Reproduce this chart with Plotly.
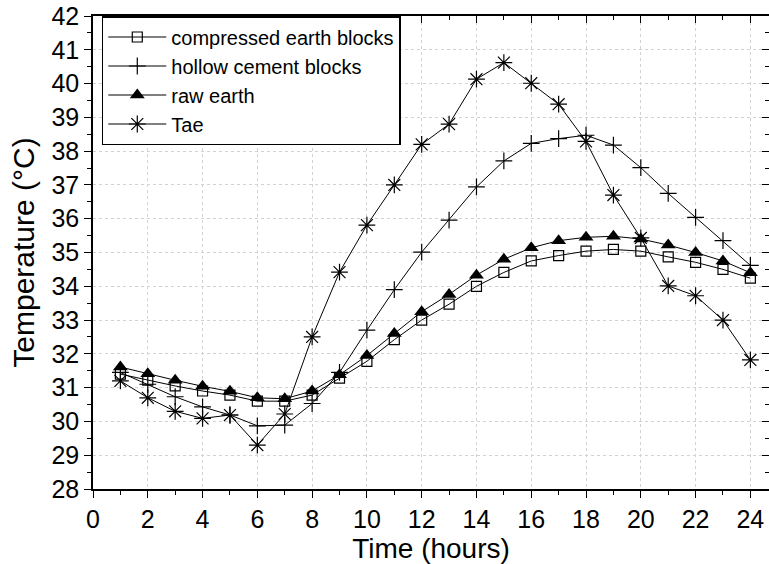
import plotly.graph_objects as go

hours = list(range(1, 25))
ceb = [31.40, 31.22, 31.05, 30.90, 30.78, 30.60, 30.60, 30.78, 31.28, 31.78, 32.42, 33.00,
       33.47, 34.00, 34.41, 34.75, 34.91, 35.04, 35.09, 35.04, 34.87, 34.71, 34.50, 34.24]
hollow = [31.45, 31.10, 30.73, 30.43, 30.19, 29.87, 29.89, 30.53, 31.45, 32.70, 33.90, 35.01,
          35.96, 36.94, 37.71, 38.23, 38.37, 38.47, 38.18, 37.51, 36.75, 36.04, 35.35, 34.62]
raw = [31.61, 31.41, 31.22, 31.04, 30.89, 30.70, 30.67, 30.90, 31.38, 31.95, 32.60, 33.25,
       33.76, 34.33, 34.80, 35.14, 35.35, 35.45, 35.48, 35.40, 35.22, 35.00, 34.75, 34.40]
tae = [31.20, 30.70, 30.30, 30.09, 30.19, 29.30, 30.22, 32.50, 34.42, 35.81, 37.00, 38.20,
       38.80, 40.13, 40.62, 40.01, 39.39, 38.29, 36.70, 35.43, 34.01, 33.72, 33.00, 31.82]
names = ["compressed earth blocks", "hollow cement blocks", "raw earth", "Tae"]

FONT = "Liberation Sans, Arial, sans-serif"
fig = go.Figure()
fig.add_trace(go.Scatter(x=hours, y=ceb, name=names[0], mode="lines+markers",
                         line=dict(color="black", width=1),
                         marker=dict(symbol="square-open", size=10, color="black", line=dict(width=1.2))))
fig.add_trace(go.Scatter(x=hours, y=hollow, name=names[1], mode="lines+markers",
                         line=dict(color="black", width=1),
                         marker=dict(symbol="cross-thin-open", size=12, color="black", line=dict(width=1.2))))
fig.add_trace(go.Scatter(x=hours, y=raw, name=names[2], mode="lines+markers",
                         line=dict(color="black", width=1),
                         marker=dict(symbol="triangle-up", size=13, color="black")))
fig.add_trace(go.Scatter(x=hours, y=tae, name=names[3], mode="lines+markers",
                         line=dict(color="black", width=1),
                         marker=dict(symbol="asterisk-open", size=14, color="black", line=dict(width=1.2))))
# invisible trace to carry the mirrored top/right axes
fig.add_trace(go.Scatter(x=hours, y=tae, xaxis="x2", yaxis="y2", mode="lines",
                         line=dict(width=0), opacity=0, showlegend=False, hoverinfo="skip"))

xr = [0, 24.68]
yr = [28, 42]
fig.update_layout(
    width=769, height=564,
    margin=dict(l=93, r=0, t=16, b=72),
    paper_bgcolor="white", plot_bgcolor="white",
    font=dict(family=FONT, color="black", size=20),
    showlegend=True,
    legend=dict(x=0.013, y=1.0, xanchor="left", yanchor="top",
                bgcolor="white", bordercolor="black", borderwidth=1.5,
                font=dict(size=20, family=FONT), tracegroupgap=0, itemwidth=58,
                entrywidth=262, entrywidthmode="pixels"),
    xaxis=dict(range=xr, dtick=2, tick0=0, ticks="outside", ticklen=7, tickwidth=1.2,
               tickcolor="black", showline=True, linecolor="black", linewidth=1.5,
               showgrid=True, gridcolor="#d2d2d2", griddash="dot", gridwidth=1,
               zeroline=False, tickfont=dict(size=25),
               title=dict(text="Time (hours)", font=dict(size=28), standoff=12),
               minor=dict(dtick=1, ticks="outside", ticklen=4, tickcolor="black", showgrid=False)),
    yaxis=dict(range=yr, dtick=1, tick0=28, ticks="outside", ticklen=7, tickwidth=1.2,
               tickcolor="black", showline=True, linecolor="black", linewidth=1.5,
               showgrid=True, gridcolor="#d2d2d2", griddash="dot", gridwidth=1,
               zeroline=False, tickfont=dict(size=25),
               title=dict(text="Temperature (°C)", font=dict(size=30), standoff=8),
               minor=dict(dtick=0.5, ticks="outside", ticklen=4, tickcolor="black", showgrid=False)),
    xaxis2=dict(range=xr, overlaying="x", side="top", dtick=2, tick0=0, ticks="inside",
                ticklen=7, tickwidth=1.2, tickcolor="black", showline=True, linecolor="black",
                linewidth=1.5, showticklabels=False, showgrid=False, zeroline=False,
                minor=dict(dtick=1, ticks="inside", ticklen=4, tickcolor="black")),
    yaxis2=dict(range=yr, overlaying="y", side="right", dtick=1, tick0=28, ticks="inside",
                ticklen=7, tickwidth=1.2, tickcolor="black", showline=True, linecolor="black",
                linewidth=1.5, showticklabels=False, showgrid=False, zeroline=False,
                minor=dict(dtick=0.5, ticks="inside", ticklen=4, tickcolor="black")),
)
fig.write_html("out.html")
